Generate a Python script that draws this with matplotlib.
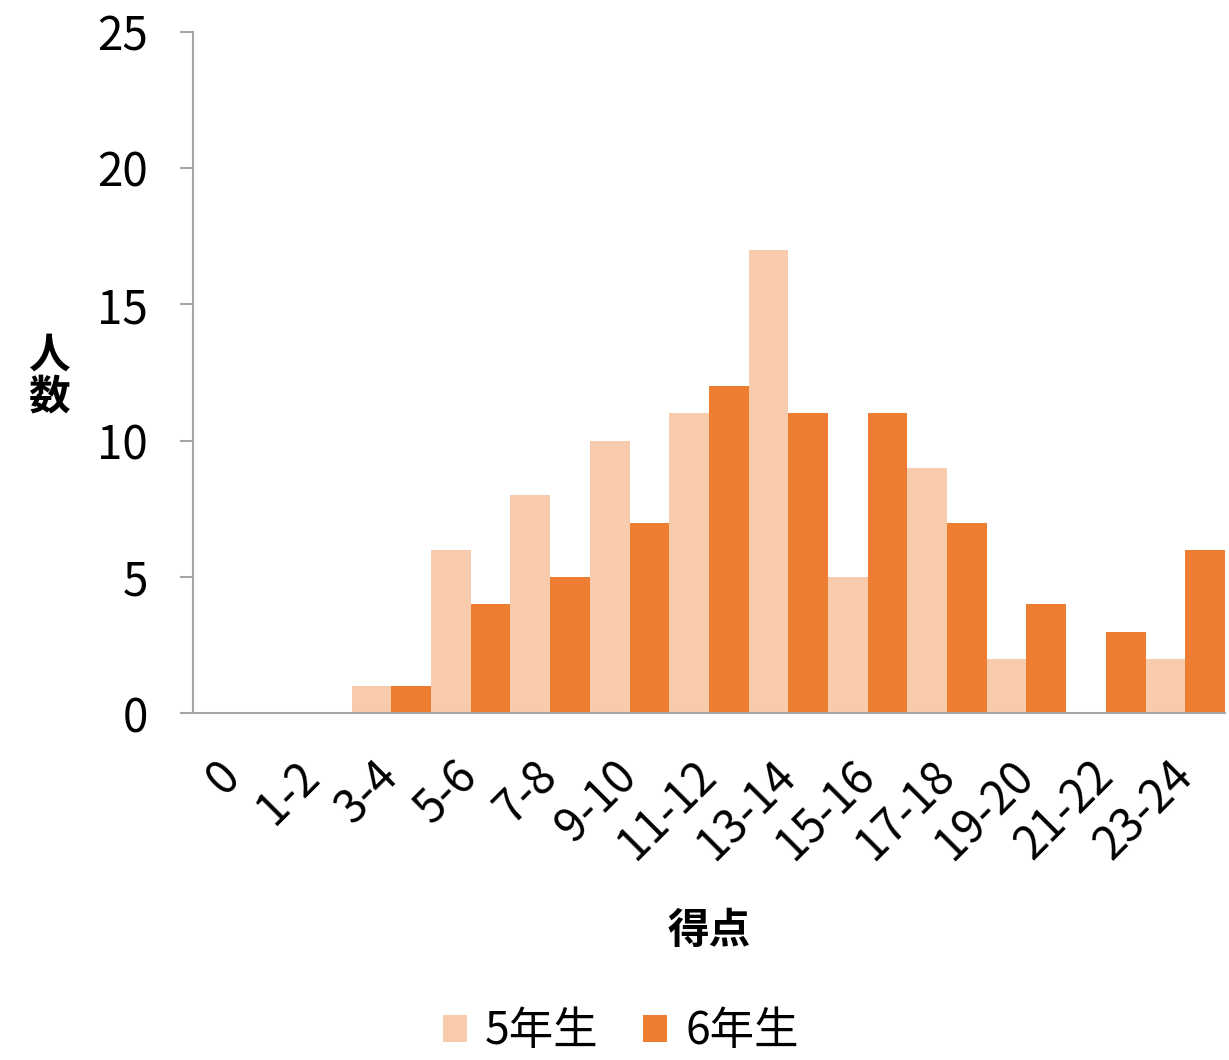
import numpy as np
import matplotlib
matplotlib.use("Agg")
import matplotlib.pyplot as plt
from matplotlib.patches import Patch

plt.rcParams["font.family"] = ["Noto Sans CJK JP", "DejaVu Sans"]

# score bins and head counts per grade
categories = ["0", "1-2", "3-4", "5-6", "7-8", "9-10", "11-12",
              "13-14", "15-16", "17-18", "19-20", "21-22", "23-24"]
grade5 = [0, 0, 1, 6, 8, 10, 11, 17, 5, 9, 2, 0, 2]
grade6 = [0, 0, 1, 4, 5, 7, 12, 11, 11, 7, 4, 3, 6]
series_names = ["5年生", "6年生"]
y_ticks = [0, 5, 10, 15, 20, 25]

C5 = "#F8CBAD"
C6 = "#ED7D31"
AXIS_GRAY = "#A6A6A6"

fig = plt.figure(figsize=(12.29, 10.60), dpi=100)
ax = fig.add_axes([0.157, 0.327, 0.8397, 0.643])

x = np.arange(len(categories))
w = 0.5
ax.bar(x - w / 2, grade5, width=w, color=C5, linewidth=0)
ax.bar(x + w / 2, grade6, width=w, color=C6, linewidth=0)

ax.set_xlim(-0.5, len(categories) - 0.5)
ax.set_ylim(0, 25)
ax.set_yticks(y_ticks)
ax.set_yticklabels([str(v) for v in y_ticks], fontsize=33)
ax.set_xticks(x)
ax.set_xticklabels(categories, fontsize=33, rotation=45, ha="right",
                   rotation_mode="anchor", va="center")

for side in ["top", "right"]:
    ax.spines[side].set_visible(False)
for side in ["left", "bottom"]:
    ax.spines[side].set_color(AXIS_GRAY)
    ax.spines[side].set_linewidth(1.5)

ax.tick_params(axis="y", length=9.5, width=1.5, color=AXIS_GRAY, pad=23)
ax.tick_params(axis="x", length=0, pad=40)

fig.text(0.0395, 0.645, "人\n数", fontsize=30, fontweight="bold",
         ha="center", va="center", linespacing=1.0)
fig.text(0.577, 0.122, "得点", fontsize=30, fontweight="bold",
         ha="center", va="center")

handles = [Patch(facecolor=C5, edgecolor="none"),
           Patch(facecolor=C6, edgecolor="none")]
fig.legend(handles, series_names, loc="center", bbox_to_anchor=(0.505, 0.027),
           ncol=2, frameon=False, fontsize=32, handlelength=0.55,
           handleheight=0.55, handletextpad=0.4, columnspacing=1.0)

fig.savefig("out.png", dpi=100)
